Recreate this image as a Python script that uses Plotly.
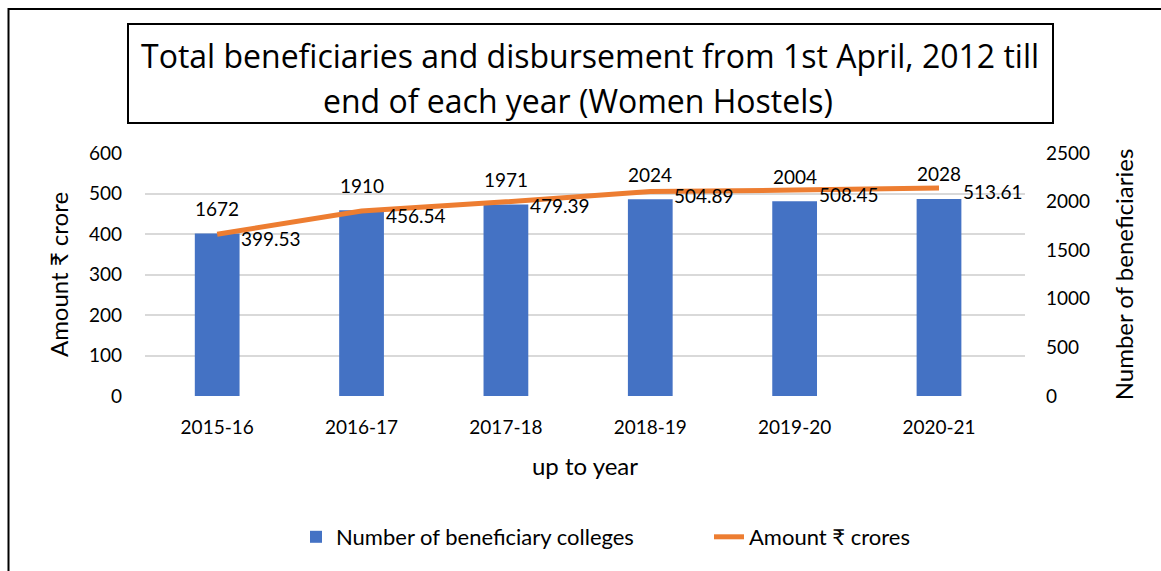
import plotly.graph_objects as go

categories = ["2015-16", "2016-17", "2017-18", "2018-19", "2019-20", "2020-21"]
colleges = [1672, 1910, 1971, 2024, 2004, 2028]
amount = [399.53, 456.54, 479.39, 504.89, 508.45, 513.61]
amount_labels = ["399.53", "456.54", "479.39", "504.89", "508.45", "513.61"]
left_ticks = [0, 100, 200, 300, 400, 500, 600]
right_ticks = [0, 500, 1000, 1500, 2000, 2500]

W, H = 1161, 571
ML, MR, MT, MB = 145, 136, 153, 175
PW, PH = W - ML - MR, H - MT - MB
FONT = "Lato, 'Noto Sans', 'DejaVu Sans', sans-serif"
TITLE_FONT = "'Open Sans', 'Noto Sans', sans-serif"


def px(x):
    return (x - ML) / PW


def py(y):
    return (MT + PH - y) / PH


fig = go.Figure()
fig.add_trace(go.Bar(
    x=categories, y=colleges, name="Number of beneficiary colleges",
    marker=dict(color="#4472C4", line=dict(width=0)), yaxis="y",
    width=0.31,
))
fig.add_trace(go.Scatter(
    x=categories, y=amount, name="Amount ₹ crores", mode="lines",
    line=dict(color="#ED7D31", width=5), yaxis="y2",
))

annotations = []
for c, v in zip(categories, colleges):
    annotations.append(dict(x=c, y=v, xref="x", yref="y", text=str(v),
                            showarrow=False, yshift=25, xanchor="center",
                            yanchor="middle", font=dict(size=19, color="#000")))
for c, v, t in zip(categories, amount, amount_labels):
    annotations.append(dict(x=c, y=v, xref="x", yref="y2", text=t,
                            showarrow=False, xshift=22, yshift=-4, xanchor="left",
                            yanchor="middle", font=dict(size=19, color="#000")))
annotations.append(dict(x=px(590), y=py(55), xref="paper", yref="paper",
                        text="Total beneficiaries and disbursement from 1st April, 2012 till",
                        showarrow=False, xanchor="center", yanchor="middle",
                        font=dict(size=32, color="#000", family=TITLE_FONT)))
annotations.append(dict(x=px(578), y=py(100), xref="paper", yref="paper",
                        text="end of each year (Women Hostels)",
                        showarrow=False, xanchor="center", yanchor="middle",
                        font=dict(size=32, color="#000", family=TITLE_FONT)))

shapes = [
    dict(type="rect", xref="paper", yref="paper", x0=px(8.5), x1=px(1200),
         y0=py(9), y1=py(620), line=dict(color="#000", width=2)),
    dict(type="rect", xref="paper", yref="paper", x0=px(128), x1=px(1053),
         y0=py(24), y1=py(123), line=dict(color="#000", width=2)),
]

fig.update_layout(
    width=W, height=H,
    margin=dict(l=ML, r=MR, t=MT, b=MB, pad=0),
    paper_bgcolor="white", plot_bgcolor="white",
    font=dict(family=FONT, size=19, color="#000"),
    showlegend=True,
    legend=dict(orientation="h", x=px(296), y=py(537), xanchor="left",
                yanchor="middle", font=dict(size=22), itemwidth=30,
                entrywidth=368, entrywidthmode="pixels",
                traceorder="normal"),
    xaxis=dict(showgrid=False, zeroline=False, showline=False,
               ticks="", ticklabelstandoff=18,
               title=dict(text="up to year", standoff=21, font=dict(size=24))),
    yaxis=dict(side="right", range=[0, 2500], tickvals=right_ticks,
               showgrid=False, zeroline=False, showline=False, ticks="",
               ticklabelstandoff=20,
               title=dict(text="Number of beneficiaries", standoff=27, font=dict(size=24))),
    yaxis2=dict(side="left", overlaying="y", range=[0, 600], tickvals=left_ticks,
                showgrid=True, gridcolor="#D9D9D9", gridwidth=1.5, zeroline=False,
                showline=False, ticks="", ticklabelstandoff=22,
                title=dict(text="Amount ₹ crore", standoff=13, font=dict(size=24))),
    annotations=annotations,
    shapes=shapes,
)

fig.write_html("out.html")
